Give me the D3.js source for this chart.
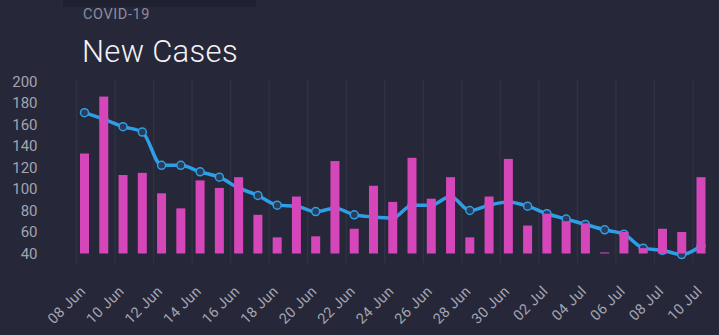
<!DOCTYPE html>
<html>
<head>
<meta charset="utf-8">
<script src="https://cdn.jsdelivr.net/npm/d3@7"></script>
<style>
  html, body { margin: 0; padding: 0; background: #262738; }
  svg { display: block; font-family: Roboto, "Noto Sans", sans-serif; }
</style>
</head>
<body>
<div id="chart"></div>
<script>
// daily counts, 08 Jun - 10 Jul
var days = [
  "2020-06-08", "2020-06-09", "2020-06-10", "2020-06-11", "2020-06-12", "2020-06-13",
  "2020-06-14", "2020-06-15", "2020-06-16", "2020-06-17", "2020-06-18", "2020-06-19",
  "2020-06-20", "2020-06-21", "2020-06-22", "2020-06-23", "2020-06-24", "2020-06-25",
  "2020-06-26", "2020-06-27", "2020-06-28", "2020-06-29", "2020-06-30", "2020-07-01",
  "2020-07-02", "2020-07-03", "2020-07-04", "2020-07-05", "2020-07-06", "2020-07-07",
  "2020-07-08", "2020-07-09", "2020-07-10"
];
var newCases = [133, 186, 113, 115, 96, 82, 108, 101, 111, 76, 55, 93, 56, 126, 63, 103, 88,
                129, 91, 111, 55, 93, 128, 66, 77, 70, 68, 41, 60, 45, 63, 60, 111];
var trend = [171, 165, 158, 153, 122, 122, 116, 111, 101, 94, 85, 84, 79, 82, 76, 74, 73,
             85, 85, 93, 80, 85, 88, 84, 77, 72, 67, 62, 58, 45, 43, 39, 47];
var yTicks = [40, 60, 80, 100, 120, 140, 160, 180, 200];
var xTickLabels = ["08 Jun", "10 Jun", "12 Jun", "14 Jun", "16 Jun", "18 Jun", "20 Jun", "22 Jun",
                   "24 Jun", "26 Jun", "28 Jun", "30 Jun", "02 Jul", "04 Jul", "06 Jul", "08 Jul", "10 Jul"];

var width = 719, height = 335;
var parse = d3.timeParse("%Y-%m-%d");
var data = days.map(function (d, i) {
  return { date: parse(d), cases: newCases[i], avg: trend[i] };
});

var svg = d3.select("#chart").append("svg")
  .attr("width", width)
  .attr("height", height);

svg.append("rect").attr("width", width).attr("height", height).attr("fill", "#262738");
// header strip
svg.append("rect").attr("x", 63).attr("y", 0).attr("width", 193).attr("height", 7).attr("fill", "#202130");

svg.append("text")
  .attr("x", 83).attr("y", 19)
  .attr("fill", "#8b8d9e")
  .attr("font-size", 14.5)
  .attr("letter-spacing", 0.6)
  .text("COVID-19");

svg.append("text")
  .attr("x", 82).attr("y", 62)
  .attr("fill", "#f2f2f7")
  .attr("font-size", 31)
  .attr("font-weight", 300)
  .attr("letter-spacing", 0.3)
  .text("New Cases");

var x = d3.scaleTime()
  .domain([data[0].date, data[data.length - 1].date])
  .range([84.5, 701]);

var y = d3.scaleLinear()
  .domain([40, 200])
  .range([253.5, 81.5]);

// vertical grid every second day
var tickDates = data.filter(function (d, i) { return i % 2 === 0; });
svg.append("g")
  .selectAll("line")
  .data(tickDates)
  .enter().append("line")
  .attr("x1", function (d) { return x(d.date) - 8; })
  .attr("x2", function (d) { return x(d.date) - 8; })
  .attr("y1", 80)
  .attr("y2", 263)
  .attr("stroke", "#303144")
  .attr("stroke-width", 1.5);

// y labels
svg.append("g")
  .selectAll("text")
  .data(yTicks)
  .enter().append("text")
  .attr("x", 37.5)
  .attr("y", function (d) { return y(d); })
  .attr("dy", "0.36em")
  .attr("text-anchor", "end")
  .attr("fill", "#a3a4b1")
  .attr("font-size", 15)
  .text(function (d) { return d; });

// x labels
svg.append("g")
  .selectAll("text")
  .data(tickDates)
  .enter().append("text")
  .attr("text-anchor", "end")
  .attr("transform", function (d) { return "translate(" + (x(d.date) + 2) + ",292) rotate(-45)"; })
  .attr("fill", "#a3a4b1")
  .attr("font-size", 14.5)
  .attr("letter-spacing", 0.4)
  .text(function (d, i) { return xTickLabels[i]; });

// trend line + markers
var line = d3.line()
  .x(function (d) { return x(d.date); })
  .y(function (d) { return y(d.avg); })
  .curve(d3.curveMonotoneX);

svg.append("path")
  .datum(data)
  .attr("d", line)
  .attr("fill", "none")
  .attr("stroke", "#2e9fe6")
  .attr("stroke-width", 3.5)
  .attr("stroke-linejoin", "round");

svg.append("g")
  .selectAll("circle")
  .data(data)
  .enter().append("circle")
  .attr("cx", function (d) { return x(d.date); })
  .attr("cy", function (d) { return y(d.avg); })
  .attr("r", 4)
  .attr("fill", "#2b3c58")
  .attr("stroke", "#2e9fe6")
  .attr("stroke-width", 1.5);

// bars sit on top of the line
var barW = 9;
svg.append("g")
  .selectAll("rect")
  .data(data)
  .enter().append("rect")
  .attr("x", function (d) { return x(d.date) - barW / 2; })
  .attr("y", function (d) { return y(d.cases); })
  .attr("width", barW)
  .attr("height", function (d) { return y(40) - y(d.cases); })
  .attr("fill", "#d646bb");
</script>
</body>
</html>
